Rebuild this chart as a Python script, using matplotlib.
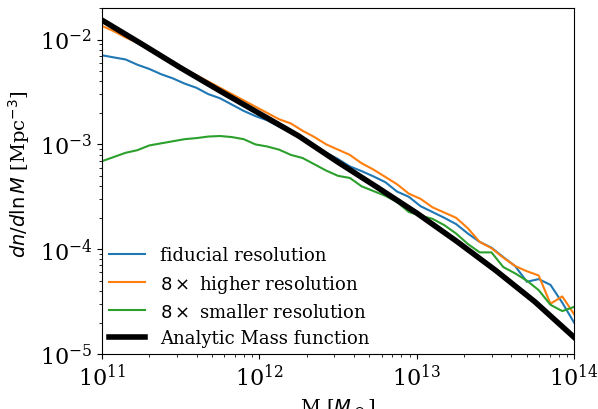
import numpy as np
import matplotlib
matplotlib.use("Agg")
import matplotlib.pyplot as plt

plt.rcParams['font.family'] = ['DejaVu Serif']
plt.rcParams['mathtext.fontset'] = 'dejavusans'

# log10 halo mass bins
logM = [11.000, 11.075, 11.150, 11.225, 11.300, 11.375, 11.450, 11.525, 11.600, 11.675,
        11.750, 11.825, 11.900, 11.975, 12.050, 12.125, 12.200, 12.275, 12.350, 12.425,
        12.500, 12.575, 12.650, 12.725, 12.800, 12.875, 12.950, 13.025, 13.100, 13.175,
        13.250, 13.325, 13.400, 13.475, 13.550, 13.625, 13.700, 13.775, 13.850, 13.925,
        14.000]

# log10 dn/dlnM
fiducial = [-2.15, -2.17, -2.19, -2.24, -2.28, -2.33, -2.37, -2.42, -2.46, -2.52,
            -2.56, -2.62, -2.68, -2.73, -2.77, -2.83, -2.88, -2.95, -3.02, -3.08,
            -3.14, -3.21, -3.255, -3.305, -3.36, -3.45, -3.50, -3.59, -3.645, -3.70,
            -3.76, -3.85, -3.93, -3.985, -4.075, -4.16, -4.31, -4.285, -4.34, -4.51,
            -4.70]
higher = [-1.87, -1.92, -1.98, -2.03, -2.09, -2.15, -2.21, -2.28, -2.34, -2.40,
          -2.46, -2.52, -2.58, -2.64, -2.70, -2.76, -2.80, -2.87, -2.93, -3.00,
          -3.05, -3.10, -3.18, -3.24, -3.31, -3.38, -3.47, -3.52, -3.60, -3.65,
          -3.70, -3.80, -3.93, -3.99, -4.08, -4.16, -4.21, -4.25, -4.52, -4.45,
          -4.62]
smaller = [-3.16, -3.12, -3.08, -3.055, -3.01, -2.99, -2.97, -2.95, -2.94, -2.925,
           -2.92, -2.93, -2.95, -3.00, -3.02, -3.05, -3.10, -3.13, -3.19, -3.25,
           -3.30, -3.32, -3.40, -3.445, -3.49, -3.55, -3.645, -3.68, -3.71, -3.77,
           -3.85, -3.95, -4.03, -4.03, -4.17, -4.23, -4.30, -4.39, -4.53, -4.59,
           -4.55]

logM_analytic = [11.00, 11.25, 11.50, 11.75, 12.00, 12.25, 12.50, 12.75, 13.00,
                 13.25, 13.50, 13.75, 14.00]
analytic = [-1.815, -2.04, -2.27, -2.49, -2.705, -2.92, -3.17, -3.41, -3.655,
            -3.92, -4.20, -4.50, -4.84]

labels = ['fiducial resolution', r'$8\times$ higher resolution',
          r'$8\times$ smaller resolution', 'Analytic Mass function']

fig = plt.figure(figsize=(5.98, 4.10), dpi=100)
ax = fig.add_axes([0.1706, 0.134, 0.7894, 0.844])

M = 10 ** np.array(logM)
ax.plot(M, 10 ** np.array(fiducial), color='#1f77b4', lw=1.5, label=labels[0])
ax.plot(M, 10 ** np.array(higher), color='#ff7f0e', lw=1.5, label=labels[1])
ax.plot(M, 10 ** np.array(smaller), color='#2ca02c', lw=1.5, label=labels[2])
ax.plot(10 ** np.array(logM_analytic), 10 ** np.array(analytic), color='black', lw=4,
        label=labels[3])

ax.set_xscale('log')
ax.set_yscale('log')
ax.set_xlim(1e11, 1e14)
ax.set_ylim(1e-5, 2e-2)
ax.tick_params(labelsize=16)
ax.set_xlabel(r'M [$M_\odot$]', fontsize=14)
ax.set_ylabel(r'$dn/d\ln M$ [Mpc$^{-3}$]', fontsize=14)
ax.yaxis.set_label_coords(-0.148, 0.522)
ax.legend(loc='lower left', frameon=False, fontsize=13, borderaxespad=0.0,
          labelspacing=0.45)

fig.savefig('out.png', dpi=100)
